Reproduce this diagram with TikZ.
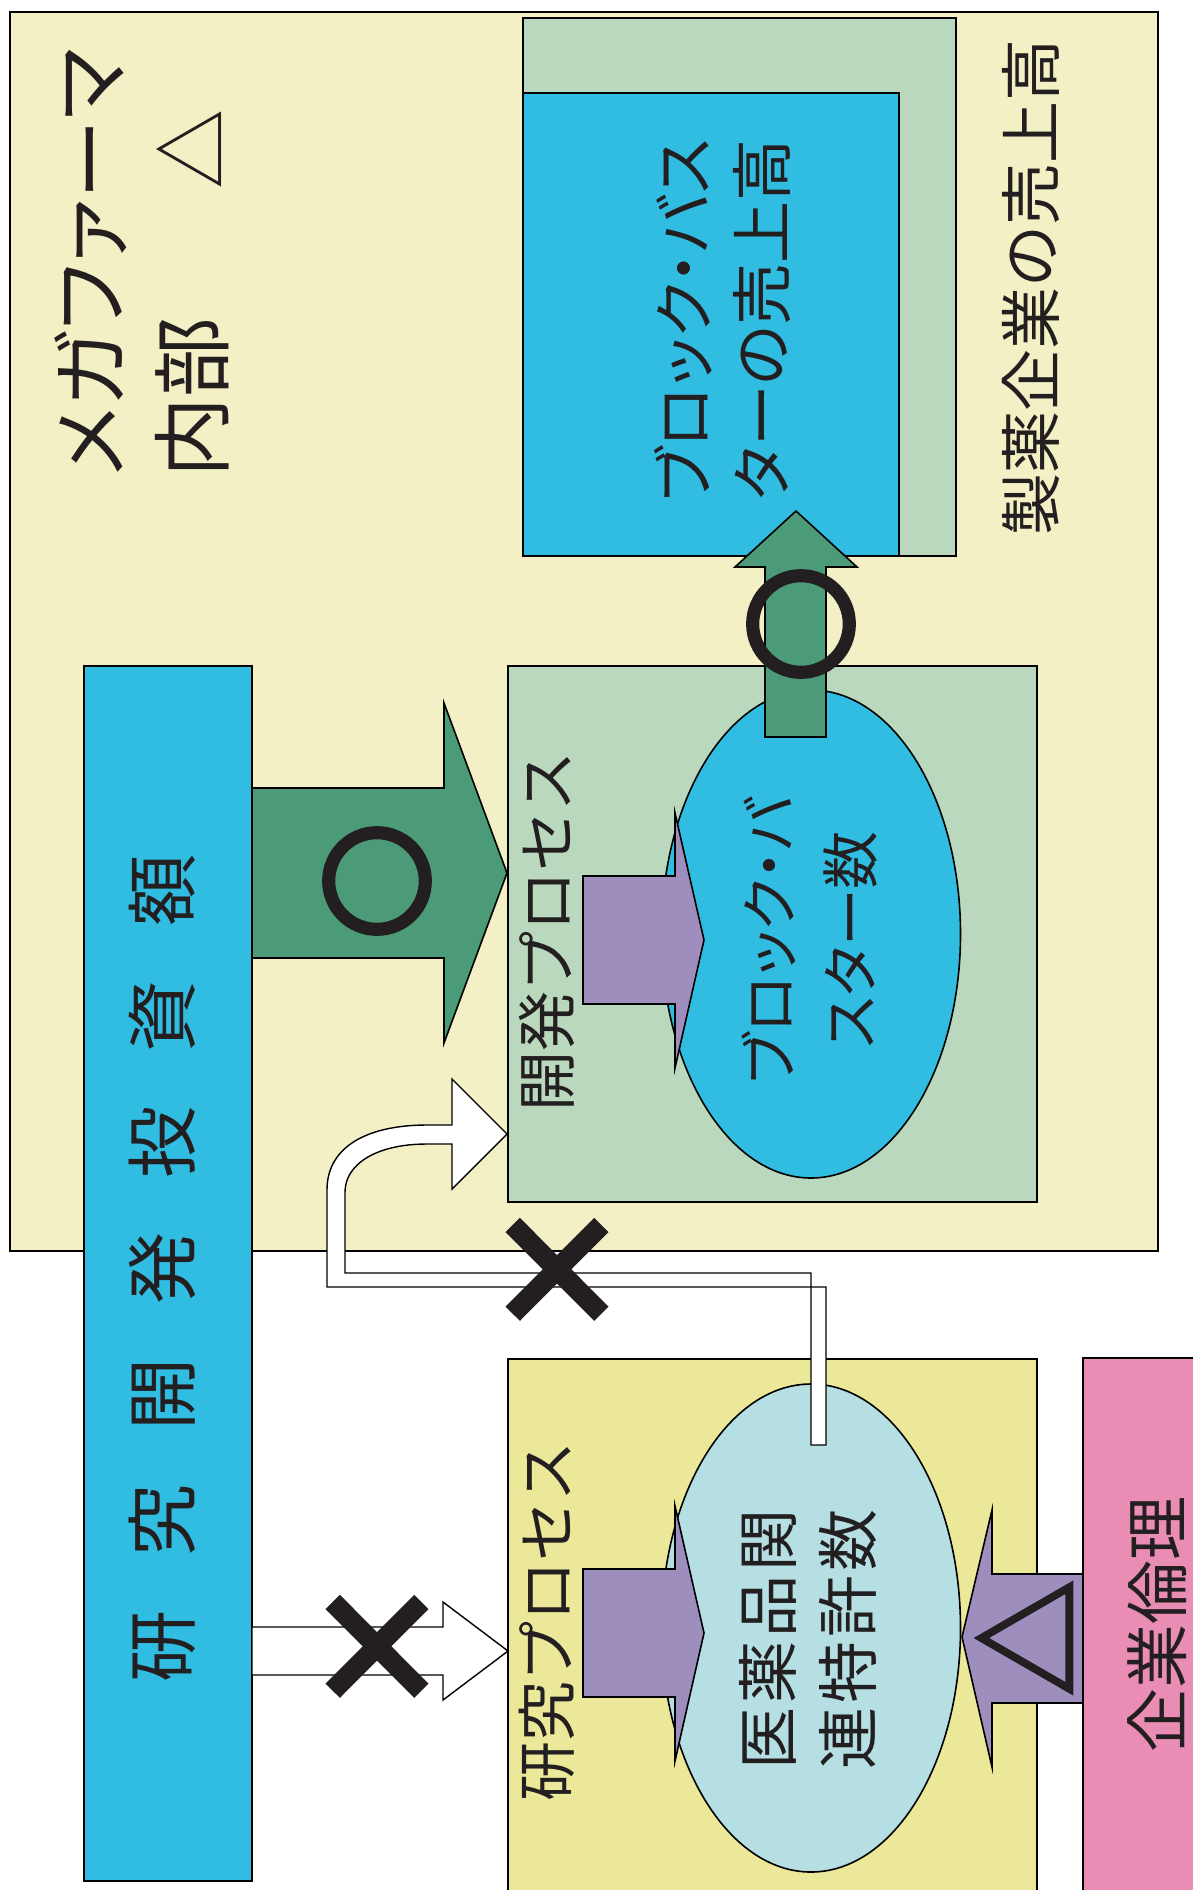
\documentclass[tikz,border=0pt]{standalone}
\usepackage{fontspec}
\setmainfont{Noto Sans CJK JP}
\newfontfamily\jpp{Noto Sans CJK JP}[RawFeature=+palt]
\newfontfamily\markfontO{Noto Sans CJK JP}[FakeBold=8]
\newfontfamily\markfontX{Noto Sans CJK JP}[FakeBold=8]
\newfontfamily\markfontT{Noto Sans CJK JP}[FakeBold=3]
\usetikzlibrary{shapes.geometric}
\definecolor{beige}{HTML}{F2F0C4}
\definecolor{paleg}{HTML}{B9D8BD}
\definecolor{cyanb}{HTML}{31BDE2}
\definecolor{darkg}{HTML}{4B9A78}
\definecolor{purp}{HTML}{9E8EBE}
\definecolor{resy}{HTML}{EBE89A}
\definecolor{lcyan}{HTML}{B5DFE3}
\definecolor{pinkb}{HTML}{E98DB5}
\definecolor{ink}{HTML}{231F20}
\begin{document}
\begin{tikzpicture}[x=1pt,y=-1pt,line width=1.6pt,line join=miter,
  box/.style={draw=black,inner sep=0pt,outer sep=0pt,anchor=north west},
  oval/.style={ellipse,draw=black,inner sep=0pt,outer sep=0pt,minimum width=299pt,minimum height=488pt},
  lbl/.style={text=ink,inner sep=0pt,rotate=90,align=center},
  blk/.style={draw=black},
  markO/.style={text=ink,inner sep=0pt,font=\markfontO\fontsize{112}{112}\selectfont},
  markX/.style={text=ink,inner sep=0pt,font=\markfontX\fontsize{136}{136}\selectfont}]
\useasboundingbox (0,0) rectangle (1192,1890);
\fill[white] (0,0) rectangle (1192,1890);
% main boxes
\node[box,fill=beige,minimum width=1148pt,minimum height=1239pt] (mega) at (10,12) {};
\node[box,fill=paleg,minimum width=433pt,minimum height=538pt] (salesall) at (523,18) {};
\node[box,fill=cyanb,minimum width=376pt,minimum height=463pt] (bbsales) at (523,93) {};
\node[box,fill=cyanb,minimum width=168pt,minimum height=1215pt] (rdinv) at (84,666) {};
% big green arrow
\filldraw[blk,fill=darkg] (252,788) -- (444,788) -- (444,703) -- (507,873) -- (444,1043) -- (444,958) -- (252,958) -- cycle;
% development process
\node[box,fill=paleg,minimum width=529pt,minimum height=536pt] (dev) at (508,666) {};
\node[oval,fill=cyanb] (bbnum) at (811,934) {};
\filldraw[blk,fill=purp] (583,876) -- (675,876) -- (675,813) -- (704,940) -- (675,1068) -- (675,1004) -- (583,1004) -- cycle;
% green up arrow
\filldraw[blk,fill=darkg] (765,737) -- (765,567) -- (735,567) -- (796,511) -- (857,567) -- (826,567) -- (826,737) -- cycle;
% research process
\node[box,fill=resy,minimum width=529pt,minimum height=540pt] (res) at (508,1359) {};
\node[oval,fill=lcyan] (pat) at (811,1628) {};
\filldraw[blk,fill=purp] (583,1569) -- (675,1569) -- (675,1506) -- (704,1633) -- (675,1761) -- (675,1697) -- (583,1697) -- cycle;
% ethics
\node[box,fill=pinkb,minimum width=130pt,minimum height=545pt] (ethic) at (1083,1358) {};
\filldraw[blk,fill=purp] (1083,1574) -- (992,1574) -- (992,1510) -- (962,1637) -- (992,1767) -- (992,1703) -- (1083,1703) -- cycle;
% white pipe arrow from patents to development
\filldraw[blk,fill=white,line width=1.4pt] (507,1134) -- (452,1189) -- (452,1144) -- (427,1144)
  .. controls (375,1144) and (345,1165) .. (345,1192) -- (345,1273) -- (811,1273) -- (811,1445)
  -- (826,1445) -- (826,1287) -- (327,1287) -- (327,1190)
  .. controls (327,1145) and (370,1125) .. (427,1125) -- (452,1125) -- (452,1079) -- cycle;
% white straight arrow
\filldraw[blk,fill=white,line width=1.4pt] (252,1627) -- (443,1627) -- (443,1602) -- (508,1651) -- (443,1700) -- (443,1675) -- (252,1675) -- cycle;
% labels
\node[lbl,anchor=north west,align=left,font=\jpp\fontsize{80}{102}\selectfont] (head) at (54,478) {メガファーマ\\内部\hspace{128pt}△};
\node[lbl,font=\fontsize{62}{62}\selectfont] (allsalesT) at (1031,287) {製薬企業の売上高};
\node[lbl,font=\jpp\fontsize{62}{78}\selectfont] (bbsalesT) at (722,320) {ブロック・バス\\ターの売上高};
\node[lbl,font=\fontsize{72}{72}\selectfont] (rdT) at (162,1268) {研\hspace{54pt}究\hspace{54pt}開\hspace{54pt}発\hspace{54pt}投\hspace{54pt}資\hspace{54pt}額};
\node[lbl,font=\fontsize{60}{60}\selectfont] (devT) at (547,931) {開発プロセス};
\node[lbl,font=\fontsize{60}{60}\selectfont] (resT) at (547,1621) {研究プロセス};
\node[lbl,font=\jpp\fontsize{58}{81}\selectfont] (bbnumT) at (810,940) {ブロック・バ\\スター数};
\node[lbl,font=\fontsize{62}{80}\selectfont] (patT) at (808,1639) {医\hspace{4pt}薬\hspace{4pt}品\hspace{4pt}関\\連\hspace{4pt}特\hspace{4pt}許\hspace{4pt}数};
\node[lbl,font=\fontsize{64}{64}\selectfont] (ethicT) at (1157,1624) {企業倫理};
% evaluation marks
\node[markO] (ok1) at (377,881) {○};
\node[markO] (ok2) at (801,624) {○};
\node[lbl,font=\markfontT\fontsize{116}{116}\selectfont] (tri2) at (1025,1638) {△};
\node[markX] (ng1) at (377,1650) {×};
\node[markX] (ng2) at (557,1273) {×};
\end{tikzpicture}
\end{document}
